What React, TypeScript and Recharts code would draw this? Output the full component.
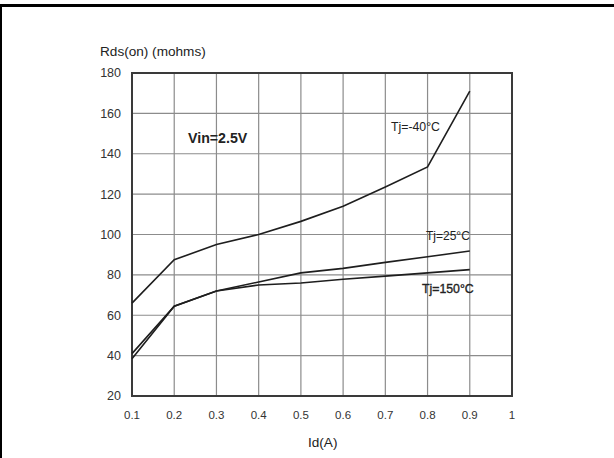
import React from 'react';
import { LineChart, Line, XAxis, YAxis, CartesianGrid, ReferenceArea } from 'recharts';

const currents = [0.1, 0.2, 0.3, 0.4, 0.5, 0.6, 0.7, 0.8, 0.9];
const rdsMinus40 = [66, 87.5, 95, 100, 106.5, 114, 123.5, 133.5, 171];
const rds25 = [41, 64.5, 72, 76.5, 81, 83.2, 86.2, 89, 91.8];
const rds150 = [38.5, 64.5, 72, 75, 76, 77.8, 79.4, 81, 82.6];

const xTicks = [0.1, 0.2, 0.3, 0.4, 0.5, 0.6, 0.7, 0.8, 0.9, 1];
const yTicks = [20, 40, 60, 80, 100, 120, 140, 160, 180];

const data = currents.map((id, i) => ({
  id,
  m40: rdsMinus40[i],
  t25: rds25[i],
  t150: rds150[i],
}));

const font = '"Liberation Sans", Arial, sans-serif';
const lineColor = '#1e1e1e';

export default function App() {
  return (
    <div style={{ position: 'absolute', left: 0, top: 0, width: 614, height: 458, background: '#fff', fontFamily: font }}>
      {/* frame pieces from the scanned figure */}
      <div style={{ position: 'absolute', left: 0, top: 4, width: 614, height: 3, background: '#000' }} />
      <div style={{ position: 'absolute', left: 0, top: 4, width: 2, height: 454, background: '#000' }} />

      <LineChart width={614} height={458} data={data} margin={{ top: 73, right: 102, bottom: 32, left: 92 }}>
        <CartesianGrid stroke="#8c8c8c" strokeWidth={1.2} />
        <XAxis
          dataKey="id"
          type="number"
          domain={[0.1, 1]}
          ticks={xTicks}
          height={30}
          tickSize={0}
          tickMargin={15}
          axisLine={false}
          tick={{ fill: '#333', fontSize: 11.5, fontFamily: font }}
        />
        <YAxis
          type="number"
          domain={[20, 180]}
          ticks={yTicks}
          width={40}
          tickSize={0}
          tickMargin={11}
          axisLine={false}
          tick={{ fill: '#333', fontSize: 12.5, fontFamily: font }}
        />
        <ReferenceArea x1={0.1} x2={1} y1={20} y2={180} fill="none" stroke="#3a3a3a" strokeWidth={2} ifOverflow="visible" />
        <Line dataKey="m40" stroke={lineColor} strokeWidth={1.6} dot={false} isAnimationActive={false} />
        <Line dataKey="t25" stroke={lineColor} strokeWidth={1.6} dot={false} isAnimationActive={false} />
        <Line dataKey="t150" stroke={lineColor} strokeWidth={1.6} dot={false} isAnimationActive={false} />
      </LineChart>

      <svg width={614} height={458} style={{ position: 'absolute', left: 0, top: 0, pointerEvents: 'none' }}>
        <g fontFamily={font} fill="#222">
          <text x={100} y={55.5} fontSize={13.6}>Rds(on) (mohms)</text>
          <text x={308} y={446.5} fontSize={13.6}>Id(A)</text>
          <text x={188} y={142.5} fontSize={14.2} fontWeight="bold">Vin=2.5V</text>
          <text x={391} y={131} fontSize={12.3}>Tj=-40°C</text>
          <text x={426} y={240} fontSize={12}>Tj=25°C</text>
          <text x={422} y={293} fontSize={12.3} stroke="#222" strokeWidth={0.35}>Tj=150°C</text>
        </g>
      </svg>
    </div>
  );
}
